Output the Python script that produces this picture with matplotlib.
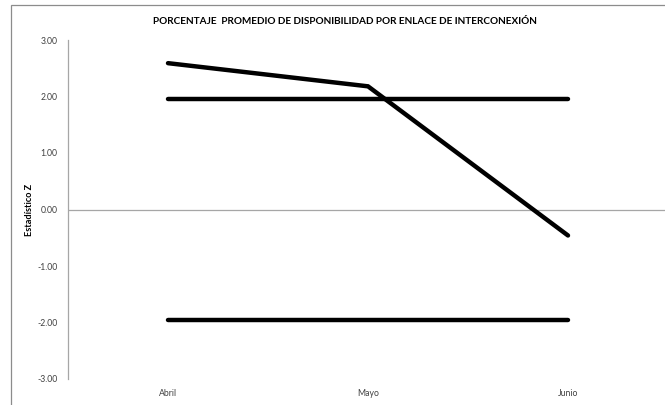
import matplotlib
matplotlib.use("Agg")
import matplotlib.pyplot as plt
from matplotlib.patches import Rectangle

categories = ["Abril", "Mayo", "Junio"]
z_values = [2.59, 2.18, -0.46]
upper_limit = [1.96, 1.96, 1.96]
lower_limit = [-1.96, -1.96, -1.96]
y_ticks = [3.0, 2.0, 1.0, 0.0, -1.0, -2.0, -3.0]
title = "PORCENTAJE  PROMEDIO DE DISPONIBILIDAD POR ENLACE DE INTERCONEXIÓN"
ylabel = "Estadístico Z"

plt.rcParams['font.family'] = ['Lato', 'DejaVu Sans']

W, H = 665, 405
fig = plt.figure(figsize=(W / 100, H / 100), dpi=100)
fig.patches.append(Rectangle((11 / W, -0.1), 1.2, 1 - 5 / H + 0.1, transform=fig.transFigure,
                             fill=False, edgecolor="#8c8c8c", linewidth=0.9))

ax = fig.add_axes([68 / W, 1 - 379 / H, 600 / W, (379 - 40) / H])
x = list(range(len(categories)))
ax.plot(x, upper_limit, color="black", lw=3.2, solid_capstyle="round")
ax.plot(x, lower_limit, color="black", lw=3.2, solid_capstyle="round")
ax.plot(x, z_values, color="black", lw=3.2, solid_capstyle="round", solid_joinstyle="miter")
ax.axhline(0, color="#a6a6a6", lw=0.9, zorder=0)

ax.set_xlim(-0.5, 2.5)
ax.set_ylim(-3, 3)
ax.set_yticks(y_ticks)
ax.set_yticklabels([f"{v:.2f}" for v in y_ticks], fontsize=6.2, color="#404040")
ax.set_xticks(x)
ax.set_xticklabels(categories, fontsize=6.2, color="#404040")
ax.tick_params(axis="both", length=0)
ax.tick_params(axis="y", pad=7.5)
ax.tick_params(axis="x", pad=7.5)
for s in ["top", "right", "bottom"]:
    ax.spines[s].set_visible(False)
ax.spines["left"].set_color("#a6a6a6")
ax.spines["left"].set_linewidth(0.9)

fig.text(345 / W, 1 - 22 / H, title, ha="center", va="center", fontsize=7.2, fontweight="bold")
fig.text(30 / W, 1 - 210 / H, ylabel, ha="center", va="center", rotation=90, fontsize=6.6, fontweight="bold")

fig.savefig("out.png", dpi=100)
